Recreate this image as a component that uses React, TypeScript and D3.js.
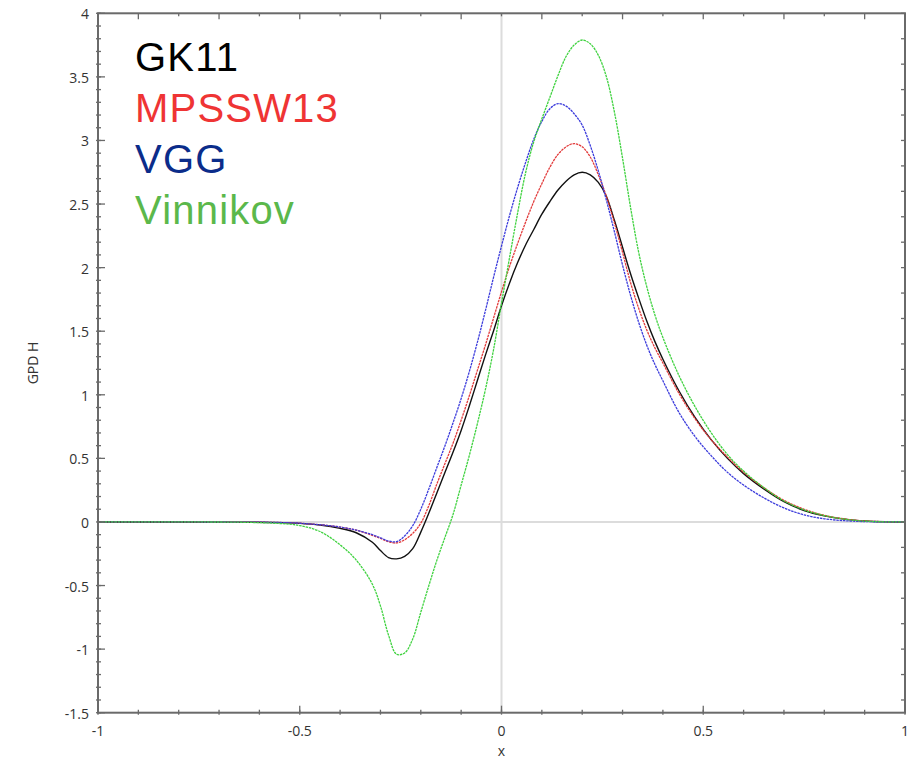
import React from "react";
import * as d3 from "d3";

const xs = [-1, -0.8, -0.65, -0.55, -0.5, -0.45, -0.4, -0.36, -0.32, -0.3,
  -0.28, -0.26, -0.24, -0.22, -0.2, -0.18, -0.16, -0.14, -0.12, -0.1,
  -0.08, -0.06, -0.04, -0.02, 0, 0.02, 0.04, 0.06, 0.08, 0.1,
  0.12, 0.14, 0.16, 0.18, 0.2, 0.22, 0.24, 0.26, 0.28, 0.3,
  0.32, 0.34, 0.36, 0.38, 0.4, 0.44, 0.48, 0.52, 0.56, 0.6,
  0.65, 0.7, 0.75, 0.8, 0.85, 0.9, 0.95, 1];

const gk11 = [0, 0, -0.001, -0.005, -0.011, -0.024, -0.05, -0.085, -0.16, -0.225,
  -0.28, -0.29, -0.27, -0.21, -0.08, 0.07, 0.23, 0.39, 0.55, 0.72,
  0.91, 1.11, 1.31, 1.5, 1.7, 1.88, 2.04, 2.18, 2.3, 2.42,
  2.52, 2.61, 2.68, 2.73, 2.75, 2.73, 2.67, 2.56, 2.37, 2.16,
  1.95, 1.76, 1.58, 1.42, 1.28, 1.03, 0.82, 0.645, 0.5, 0.38,
  0.26, 0.16, 0.09, 0.048, 0.022, 0.008, 0.002, 0];

const mpssw13 = [0, 0, -0.001, -0.004, -0.01, -0.022, -0.04, -0.065, -0.105, -0.13,
  -0.155, -0.165, -0.14, -0.09, -0.01, 0.13, 0.3, 0.46, 0.62, 0.8,
  0.99, 1.19, 1.39, 1.6, 1.81, 2.01, 2.19, 2.36, 2.52, 2.66,
  2.79, 2.89, 2.95, 2.975, 2.95, 2.87, 2.73, 2.56, 2.35, 2.12,
  1.88, 1.68, 1.51, 1.37, 1.25, 1.01, 0.81, 0.645, 0.51, 0.39,
  0.27, 0.17, 0.1, 0.052, 0.024, 0.008, 0.002, 0];

const vgg = [0, 0, -0.001, -0.004, -0.01, -0.022, -0.04, -0.065, -0.1, -0.125,
  -0.15, -0.155, -0.11, -0.03, 0.1, 0.26, 0.43, 0.6, 0.78, 0.97,
  1.18, 1.41, 1.66, 1.92, 2.17, 2.41, 2.63, 2.83, 3.01, 3.15,
  3.25, 3.29, 3.27, 3.21, 3.12, 2.96, 2.76, 2.53, 2.28, 2.02,
  1.78, 1.57, 1.39, 1.24, 1.11, 0.86, 0.67, 0.52, 0.39, 0.29,
  0.19, 0.11, 0.055, 0.025, 0.01, 0.003, 0.001, 0];

const vinnikov = [0, 0, -0.002, -0.012, -0.028, -0.075, -0.18, -0.3, -0.49, -0.66,
  -0.89, -1.04, -1.03, -0.92, -0.71, -0.5, -0.3, -0.12, 0.06, 0.29,
  0.52, 0.77, 1.04, 1.35, 1.72, 2.08, 2.43, 2.75, 2.99, 3.17,
  3.34, 3.51, 3.66, 3.75, 3.79, 3.76, 3.67, 3.5, 3.22, 2.86,
  2.47, 2.12, 1.85, 1.63, 1.45, 1.15, 0.905, 0.7, 0.53, 0.4,
  0.27, 0.165, 0.095, 0.05, 0.022, 0.007, 0.001, 0];

const seriesNames = ["GK11", "MPSSW13", "VGG", "Vinnikov"];
const seriesValues = [gk11, mpssw13, vgg, vinnikov];
const lineColors = ["#111111", "#e23b3b", "#3c3cdc", "#3fd23f"];
const legendColors = ["#000000", "#ef3434", "#0b2c8a", "#5bb84b"];

const xTickValues = [-1, -0.5, 0, 0.5, 1];
const xTickLabels = ["-1", "-0.5", "0", "0.5", "1"];
const yTickValues = [-1.5, -1, -0.5, 0, 0.5, 1, 1.5, 2, 2.5, 3, 3.5, 4];
const yTickLabels = ["-1.5", "-1", "-0.5", "0", "0.5", "1", "1.5", "2", "2.5", "3", "3.5", "4"];

const L = 98, R = 905, T = 13.3, B = 712.7;

export default function App() {
  const x = d3.scaleLinear().domain([-1, 1]).range([L, R]);
  const y = d3.scaleLinear().domain([-1.5, 4]).range([B, T]);
  const line = d3.line<number>()
    .x((_, i) => x(xs[i]))
    .y((d) => y(d))
    .curve(d3.curveCatmullRom.alpha(0.5));

  const xMinor = d3.range(-10, 11).map((k) => k / 10);
  const yMinor = d3.range(-15, 41).map((k) => k / 10);
  const yRight = d3.range(-7, 21).map((k) => k / 5);
  const axisColor = "#6a6a6a";
  const tickFont = "'Open Sans', 'DejaVu Sans', sans-serif";

  return (
    <svg width={910} height={762} style={{ position: "absolute", left: 0, top: 0, background: "#fff" }}>
      <rect x={0} y={0} width={910} height={762} fill="#fff" />
      {/* zero lines */}
      <line x1={x(0)} x2={x(0)} y1={T} y2={B} stroke="#dcdcdc" strokeWidth={2} />
      <line x1={L} x2={R} y1={y(0)} y2={y(0)} stroke="#dcdcdc" strokeWidth={2} />

      {/* curves */}
      {seriesValues.map((vals, i) => (
        <path key={seriesNames[i]} d={line(vals) || ""} fill="none" stroke={lineColors[i]}
          strokeWidth={i === 0 ? 1.4 : 1.3} strokeDasharray={i === 0 ? undefined : "2.5 0.8"} />
      ))}

      {/* frame */}
      <rect x={L} y={T} width={R - L} height={B - T} fill="none" stroke={axisColor} strokeWidth={2} />

      {/* bottom ticks */}
      {xMinor.map((v) => (
        <line key={"bm" + v} x1={x(v)} x2={x(v)} y1={B + 2} y2={B - 3} stroke={axisColor} strokeWidth={1.3} />
      ))}
      {xTickValues.map((v) => (
        <line key={"bM" + v} x1={x(v)} x2={x(v)} y1={B} y2={B - 7} stroke={axisColor} strokeWidth={1.3} />
      ))}
      {/* top ticks */}
      {xMinor.map((v, k) => (
        <line key={"tm" + v} x1={x(v)} x2={x(v)} y1={T} y2={T + (k % 2 === 1 ? 6 : 3)} stroke={axisColor} strokeWidth={1.3} />
      ))}
      {/* left ticks */}
      {yMinor.map((v) => (
        <line key={"lm" + v} x1={L - 2} x2={L + 3} y1={y(v)} y2={y(v)} stroke={axisColor} strokeWidth={1.3} />
      ))}
      {yTickValues.map((v) => (
        <line key={"lM" + v} x1={L} x2={L + 7} y1={y(v)} y2={y(v)} stroke={axisColor} strokeWidth={1.3} />
      ))}
      {/* right ticks */}
      {yRight.map((v) => (
        <line key={"rm" + v} x1={R} x2={R - 4} y1={y(v)} y2={y(v)} stroke={axisColor} strokeWidth={1.3} />
      ))}

      {/* tick labels */}
      {xTickValues.map((v, i) => (
        <text key={"xl" + v} x={x(v)} y={736} textAnchor="middle" fontFamily={tickFont} fontSize={14} fill="#333">
          {xTickLabels[i]}
        </text>
      ))}
      {yTickValues.map((v, i) => (
        <text key={"yl" + v} x={89} y={y(v) + 6} textAnchor="end" fontFamily={tickFont} fontSize={14} fill="#333">
          {yTickLabels[i]}
        </text>
      ))}

      {/* axis titles */}
      <text x={x(0)} y={756} textAnchor="middle" fontFamily={tickFont} fontSize={14} fill="#333">x</text>
      <text transform={`translate(38,${(T + B) / 2}) rotate(-90)`} textAnchor="middle" fontFamily={tickFont} fontSize={14} fill="#333">GPD H</text>

      {/* legend */}
      {seriesNames.map((n, i) => (
        <text key={"lg" + n} x={135} y={71 + i * 51} fontFamily="'Liberation Sans', Arial, sans-serif" fontSize={40}
          letterSpacing={1.2} fill={legendColors[i]}>
          {n}
        </text>
      ))}
    </svg>
  );
}
